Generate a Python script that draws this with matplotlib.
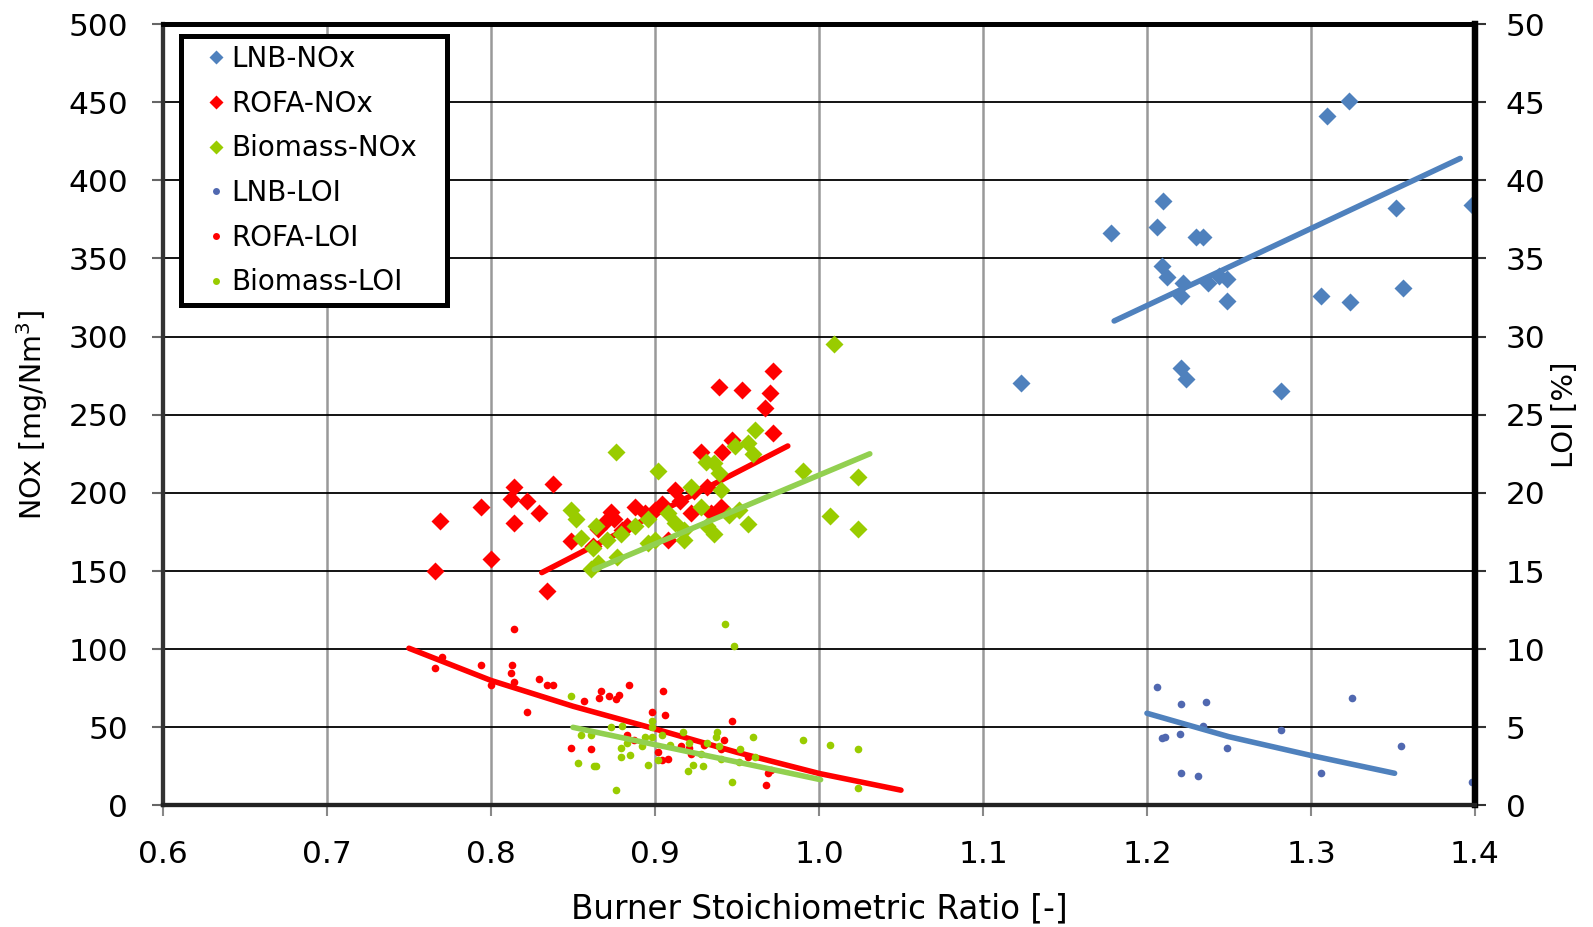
import matplotlib
matplotlib.use("Agg")
import matplotlib.pyplot as plt
from matplotlib.lines import Line2D
from matplotlib.ticker import FormatStrFormatter, MultipleLocator

# burner stoichiometric ratio vs NOx (left axis) and LOI (right axis)
lnb_nox_x = [1.178, 1.206, 1.210, 1.209, 1.212, 1.222, 1.221, 1.230, 1.234, 1.237,
             1.244, 1.249, 1.249, 1.310, 1.323, 1.352, 1.356, 1.306, 1.324, 1.221,
             1.224, 1.123, 1.282, 1.398]
lnb_nox_y = [366, 370, 387, 345, 338, 334, 326, 364, 364, 334,
             339, 337, 323, 441, 451, 382, 331, 326, 322, 280,
             273, 270, 265, 384]

rofa_nox_x = [0.769, 0.766, 0.794, 0.814, 0.812, 0.822, 0.814, 0.829, 0.838, 0.800,
              0.834, 0.849, 0.873, 0.875, 0.870, 0.888, 0.900, 0.904, 0.912, 0.928,
              0.941, 0.947, 0.939, 0.953, 0.972, 0.970, 0.967, 0.972, 0.865, 0.883,
              0.894, 0.922, 0.934, 0.924, 0.940, 0.862, 0.908, 0.932, 0.880, 0.915]
rofa_nox_y = [182, 150, 191, 204, 196, 195, 181, 187, 206, 158,
              137, 169, 188, 183, 182, 191, 189, 193, 202, 226,
              226, 234, 268, 266, 278, 264, 254, 238, 177, 179,
              187, 187, 187, 201, 191, 166, 170, 204, 176, 195]

bio_nox_x = [0.876, 1.009, 0.902, 0.990, 1.024, 1.007, 1.024, 0.849, 0.852, 0.855,
             0.864, 0.862, 0.861, 0.865, 0.871, 0.879, 0.888, 0.896, 0.900, 0.908,
             0.918, 0.922, 0.928, 0.932, 0.936, 0.940, 0.939, 0.936, 0.931, 0.949,
             0.957, 0.961, 0.960, 0.951, 0.957, 0.896, 0.877, 0.918, 0.945, 0.912]
bio_nox_y = [226, 295, 214, 214, 210, 185, 177, 189, 183, 171,
             179, 165, 151, 155, 170, 174, 179, 183, 170, 187,
             176, 204, 191, 179, 174, 202, 213, 219, 220, 230,
             232, 240, 225, 189, 180, 168, 159, 170, 186, 181]

lnb_loi_x = [1.206, 1.221, 1.236, 1.234, 1.220, 1.209, 1.211, 1.249, 1.282, 1.221,
             1.231, 1.306, 1.325, 1.355, 1.398]
lnb_loi_y = [7.6, 6.5, 6.6, 5.1, 4.6, 4.3, 4.4, 3.7, 4.8, 2.1,
             1.9, 2.1, 6.9, 3.8, 1.5]

rofa_loi_x = [0.770, 0.766, 0.794, 0.800, 0.814, 0.813, 0.812, 0.814, 0.822, 0.829,
              0.834, 0.838, 0.857, 0.849, 0.861, 0.867, 0.866, 0.872, 0.876, 0.878,
              0.884, 0.883, 0.887, 0.898, 0.905, 0.906, 0.902, 0.904, 0.908, 0.916,
              0.921, 0.922, 0.947, 0.942, 0.969, 0.971, 0.968, 0.957, 0.940, 0.930]
rofa_loi_y = [9.5, 8.8, 9.0, 7.7, 11.3, 9.0, 8.5, 7.9, 6.0, 8.1,
              7.7, 7.7, 6.7, 3.7, 3.6, 7.3, 6.9, 7.0, 6.8, 7.1,
              7.7, 4.5, 4.2, 6.0, 7.3, 5.8, 3.4, 2.9, 3.0, 3.8,
              3.7, 3.3, 5.4, 4.2, 2.1, 2.3, 1.3, 3.1, 3.6, 3.9]

bio_loi_x = [0.943, 0.948, 0.849, 0.853, 0.864, 0.863, 0.876, 0.855, 0.861, 0.873,
             0.880, 0.879, 0.879, 0.885, 0.883, 0.892, 0.896, 0.894, 0.898, 0.898,
             0.898, 0.904, 0.902, 0.909, 0.917, 0.921, 0.920, 0.923, 0.929, 0.928,
             0.932, 0.937, 0.938, 0.939, 0.940, 0.947, 0.952, 0.960, 0.961, 0.951,
             0.990, 1.007, 1.024, 1.024]
bio_loi_y = [11.6, 10.2, 7.0, 2.7, 2.5, 2.5, 1.0, 4.5, 4.5, 5.0,
             5.1, 3.7, 3.1, 3.2, 4.0, 3.8, 2.6, 4.4, 4.4, 5.4,
             5.0, 4.5, 2.9, 3.9, 4.7, 4.0, 2.2, 2.6, 2.5, 3.3,
             4.0, 4.4, 4.7, 3.8, 3.0, 1.5, 3.6, 4.4, 3.1, 2.8,
             4.2, 3.9, 3.6, 1.1]

# trendlines
lnb_nox_fit_x = [1.180, 1.391]
lnb_nox_fit_y = [310, 414]
rofa_nox_fit_x = [0.831, 0.981]
rofa_nox_fit_y = [149, 230]
bio_nox_fit_x = [0.863, 1.031]
bio_nox_fit_y = [151, 225]
lnb_loi_fit_x = [1.200, 1.250, 1.300, 1.351]
lnb_loi_fit_y = [5.9, 4.4, 3.2, 2.06]
rofa_loi_fit_x = [0.750, 0.800, 0.850, 0.900, 0.950, 1.000, 1.050]
rofa_loi_fit_y = [10.06, 8.0, 6.35, 4.9, 3.4, 2.05, 0.98]
bio_loi_fit_x = [0.850, 1.001]
bio_loi_fit_y = [5.0, 1.65]

blue = '#4F81BD'
blue_dot = '#5068B0'
red = '#FF0000'
green = '#99CC00'
green_line = '#92D050'

plt.rcParams['font.family'] = 'DejaVu Sans'

fig = plt.figure(figsize=(15.93, 9.27), dpi=100)
ax1 = fig.add_axes([0.1023, 0.1311, 0.8236, 0.8430])
ax2 = ax1.twinx()

ax1.set_xlim(0.6, 1.4)
ax1.set_ylim(0, 500)
ax2.set_ylim(0, 50)

ax1.grid(axis='y', color='black', lw=1.3, zorder=0)
ax1.grid(axis='x', color='#999999', lw=1.8, zorder=0)
ax1.set_axisbelow(True)

dms = 9
ax1.plot(lnb_nox_x, lnb_nox_y, ls='none', marker='D', ms=dms, color=blue, mec='none')
ax1.plot(lnb_nox_fit_x, lnb_nox_fit_y, color=blue, lw=4, solid_capstyle='round')
ax1.plot(rofa_nox_x, rofa_nox_y, ls='none', marker='D', ms=dms, color=red, mec='none')
ax1.plot(rofa_nox_fit_x, rofa_nox_fit_y, color=red, lw=4, solid_capstyle='round')
ax1.plot(bio_nox_x, bio_nox_y, ls='none', marker='D', ms=dms, color=green, mec='none')
ax1.plot(bio_nox_fit_x, bio_nox_fit_y, color=green_line, lw=4, solid_capstyle='round')

ms = 5.5
ax2.plot(lnb_loi_x, lnb_loi_y, ls='none', marker='o', ms=ms, color=blue_dot, mec='none')
ax2.plot(lnb_loi_fit_x, lnb_loi_fit_y, color=blue, lw=4, solid_capstyle='round')
ax2.plot(rofa_loi_x, rofa_loi_y, ls='none', marker='o', ms=ms, color=red, mec='none')
ax2.plot(rofa_loi_fit_x, rofa_loi_fit_y, color=red, lw=4, solid_capstyle='round')
ax2.plot(bio_loi_x, bio_loi_y, ls='none', marker='o', ms=ms, color=green, mec='none')
ax2.plot(bio_loi_fit_x, bio_loi_fit_y, color=green_line, lw=4, solid_capstyle='round')

ax1.xaxis.set_major_locator(MultipleLocator(0.1))
ax1.xaxis.set_major_formatter(FormatStrFormatter('%.1f'))
ax1.yaxis.set_major_locator(MultipleLocator(50))
ax2.yaxis.set_major_locator(MultipleLocator(5))

ax1.tick_params(axis='x', direction='out', length=8, width=1.5, color='#888888',
                pad=17, labelsize=22.5)
ax1.tick_params(axis='y', direction='out', length=8, width=1.5, color='#666666',
                pad=17, labelsize=22.5)
ax2.tick_params(axis='y', direction='out', length=8, width=1.5, color='#333333',
                pad=14, labelsize=22.5)

for ax in (ax1, ax2):
    ax.spines['left'].set_linewidth(3)
    ax.spines['left'].set_color('#333333')
    ax.spines['bottom'].set_linewidth(3)
    ax.spines['bottom'].set_color('#222222')
    ax.spines['top'].set_linewidth(3.5)
    ax.spines['top'].set_color('black')
    ax.spines['right'].set_linewidth(4.5)
    ax.spines['right'].set_color('black')

ax1.set_xlabel('Burner Stoichiometric Ratio [-]', fontsize=23.5, labelpad=17)
ax1.set_ylabel('NOx [mg/Nm$^3$]', fontsize=20.5, labelpad=13)
ax2.set_ylabel('LOI [%]', fontsize=21, labelpad=4)

handles = [
    Line2D([], [], ls='none', marker='D', ms=7, color=blue, mec='none'),
    Line2D([], [], ls='none', marker='D', ms=7, color=red, mec='none'),
    Line2D([], [], ls='none', marker='D', ms=7, color=green, mec='none'),
    Line2D([], [], ls='none', marker='o', ms=5, color=blue_dot, mec='none'),
    Line2D([], [], ls='none', marker='o', ms=5, color=red, mec='none'),
    Line2D([], [], ls='none', marker='o', ms=5, color=green, mec='none'),
]
labels = ['LNB-NOx', 'ROFA-NOx', 'Biomass-NOx', 'LNB-LOI', 'ROFA-LOI', 'Biomass-LOI']
leg = ax2.legend(handles, labels, loc='upper left', bbox_to_anchor=(0.0137, 0.5, 0.2027, 0.4846),
                 mode='expand', borderaxespad=0, fancybox=False, framealpha=1,
                 edgecolor='black', prop={'family': 'DejaVu Sans', 'size': 20},
                 borderpad=0.32, labelspacing=0.6, handlelength=1.85, handletextpad=-0.35)
leg.get_frame().set_linewidth(3.6)

fig.savefig('out.png', dpi=100)
